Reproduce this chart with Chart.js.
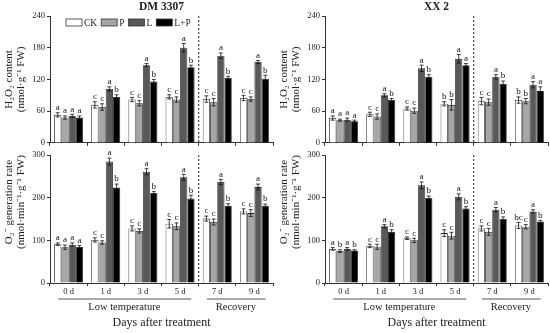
<!DOCTYPE html>
<html>
<head>
<meta charset="utf-8">
<script src="https://cdn.jsdelivr.net/npm/chart.js@4.4.1/dist/chart.umd.min.js"></script>
<style>
  html, body { margin: 0; padding: 0; background: #fff; }
  #wrap { position: relative; width: 550px; height: 333px; overflow: hidden; }
  canvas { position: absolute; }
</style>
</head>
<body>
<div id="wrap">
  <canvas id="dmTop" width="275" height="150" style="left:0;top:0"></canvas>
  <canvas id="xxTop" width="275" height="150" style="left:275px;top:0"></canvas>
  <canvas id="dmBot" width="275" height="185" style="left:0;top:148px"></canvas>
  <canvas id="xxBot" width="275" height="185" style="left:275px;top:148px"></canvas>
</div>
<script>
const days = ["0 d", "1 d", "3 d", "5 d", "7 d", "9 d"]
const treatments = ["CK", "P", "L", "L+P"]
const fills = ["#ffffff", "#a6a6a6", "#595959", "#000000"]

const h2o2Ticks = [0, 60, 120, 180, 240]
const o2Ticks = [0, 100, 200, 300]

// rows: CK, P, L, L+P ; columns follow `days`
const dmH2o2 = [
  [53, 72, 82, 87, 83, 85],
  [48, 68, 75, 82, 77, 83],
  [51, 102, 147, 180, 165, 153],
  [48, 87, 116, 143, 123, 121]
]
const dmH2o2Err = [
  [4, 6, 4, 4, 6, 5],
  [3, 6, 5, 5, 7, 4],
  [3, 4, 3, 8, 5, 3],
  [3, 4, 4, 4, 3, 7]
]
const dmH2o2Sig = [
  ["a", "c", "c", "c", "c", "c"],
  ["a", "c", "c", "c", "c", "c"],
  ["a", "a", "a", "a", "a", "a"],
  ["a", "b", "b", "b", "b", "b"]
]

const xxH2o2 = [
  [47, 54, 65, 74, 79, 81],
  [43, 50, 61, 72, 77, 79],
  [44, 90, 141, 159, 125, 110],
  [41, 81, 125, 147, 112, 98]
]
const xxH2o2Err = [
  [4, 4, 3, 4, 7, 6],
  [2, 5, 5, 10, 6, 5],
  [3, 3, 6, 8, 4, 6],
  [2, 3, 4, 3, 5, 8]
]
const xxH2o2Sig = [
  ["a", "c", "c", "b", "c", "b"],
  ["a", "c", "c", "b", "c", "b"],
  ["a", "a", "a", "a", "a", "a"],
  ["a", "b", "b", "a", "b", "a"]
]

const dmO2 = [
  [91, 101, 128, 139, 151, 168],
  [84, 95, 122, 133, 143, 164],
  [90, 285, 261, 248, 237, 225],
  [85, 224, 211, 198, 181, 181]
]
const dmO2Err = [
  [3, 5, 6, 10, 6, 6],
  [5, 4, 5, 8, 7, 8],
  [4, 8, 7, 7, 6, 7],
  [3, 8, 4, 8, 5, 4]
]
const dmO2Sig = [
  ["a", "c", "c", "c", "c", "c"],
  ["a", "c", "c", "c", "c", "c"],
  ["a", "a", "a", "a", "a", "a"],
  ["a", "b", "b", "b", "b", "b"]
]

const xxO2 = [
  [80, 87, 105, 117, 128, 135],
  [75, 85, 100, 111, 120, 132],
  [80, 133, 229, 202, 172, 168],
  [76, 120, 200, 175, 150, 144]
]
const xxO2Err = [
  [3, 4, 3, 8, 6, 7],
  [3, 6, 5, 8, 8, 5],
  [3, 4, 8, 7, 5, 4],
  [2, 5, 4, 4, 5, 3]
]
const xxO2Sig = [
  ["a", "c", "c", "c", "c", "bc"],
  ["b", "c", "c", "c", "c", "c"],
  ["a", "a", "a", "a", "a", "a"],
  ["b", "b", "b", "b", "b", "b"]
]

const serif = "'Liberation Serif', 'Times New Roman', serif"
const ink = "#222"
Chart.defaults.font.family = serif
Chart.defaults.color = ink

// error bars, letters, divider, titles, legend and group labels
const decor = {
  id: "decor",
  afterDatasetsDraw(chart, args, o) {
    const ctx = chart.ctx, x = chart.scales.x, y = chart.scales.y, ca = chart.chartArea
    ctx.save()
    ctx.strokeStyle = "#111"
    ctx.fillStyle = "#111"
    ctx.lineWidth = 0.8
    ctx.font = "9px " + serif
    ctx.textAlign = "center"
    ctx.textBaseline = "bottom"
    chart.data.datasets.forEach((ds, i) => {
      chart.getDatasetMeta(i).data.forEach((bar, j) => {
        const m = ds.data[j], e = o.errs[i][j]
        const top = y.getPixelForValue(m + e), bot = y.getPixelForValue(m - e)
        ctx.beginPath()
        ctx.moveTo(bar.x, top); ctx.lineTo(bar.x, bot)
        ctx.moveTo(bar.x - 2, top); ctx.lineTo(bar.x + 2, top)
        ctx.moveTo(bar.x - 2, bot); ctx.lineTo(bar.x + 2, bot)
        ctx.stroke()
        ctx.fillText(o.sig[i][j], bar.x, top - 0.5)
      })
    })

    // dotted line between low temperature and recovery
    const xd = (x.getPixelForValue(3) + x.getPixelForValue(4)) / 2
    ctx.strokeStyle = "#444"
    ctx.lineWidth = 1.2
    ctx.setLineDash([2, 2])
    ctx.beginPath()
    ctx.moveTo(xd, ca.top); ctx.lineTo(xd, ca.bottom)
    ctx.stroke()
    ctx.setLineDash([])

    // y title, two lines
    ctx.fillStyle = ink
    ctx.font = "11px " + serif
    ctx.textBaseline = "middle"
    const cy = (ca.top + ca.bottom) / 2 + (o.titleShift || 0)
    o.yTitle.forEach((t, k) => {
      ctx.save()
      ctx.translate(9 + k * 12, cy)
      ctx.rotate(-Math.PI / 2)
      ctx.fillText(t, 0, 0)
      ctx.restore()
    })

    // panel header
    if (o.header) {
      ctx.font = "bold 11.5px " + serif
      ctx.fillText(o.header, (ca.left + ca.right) / 2, 7)
    }

    // legend
    if (o.legend) {
      ctx.font = "9.5px " + serif
      ctx.textAlign = "left"
      let lx = ca.left + 16
      treatments.forEach((t, i) => {
        ctx.fillStyle = fills[i]
        ctx.fillRect(lx, 19, 16, 7)
        ctx.strokeStyle = "#333"
        ctx.lineWidth = 0.8
        ctx.strokeRect(lx, 19, 16, 7)
        lx += 18
        ctx.fillStyle = ink
        ctx.fillText(t, lx, 23)
        lx += ctx.measureText(t).width + 4
      })
    }

    // phase labels under the bottom panels
    if (o.phases) {
      const gw = x.getPixelForValue(1) - x.getPixelForValue(0)
      const ly = ca.bottom + 16
      ctx.strokeStyle = "#555"
      ctx.lineWidth = 1
      ctx.font = "10.5px " + serif
      ctx.textAlign = "center"
      ctx.fillStyle = ink
      ;[[0, 3, "Low temperature"], [4, 5, "Recovery"]].forEach(([a, b, t]) => {
        const x0 = x.getPixelForValue(a) - gw * 0.28, x1 = x.getPixelForValue(b) + gw * 0.3
        ctx.beginPath()
        ctx.moveTo(x0, ly); ctx.lineTo(x1, ly)
        ctx.stroke()
        ctx.fillText(t, (x.getPixelForValue(a) + x.getPixelForValue(b)) / 2, ly + 8)
      })
      ctx.font = "12px " + serif
      ctx.fillText("Days after treatment", (ca.left + ca.right) / 2, ca.bottom + 40)
    }
    ctx.restore()
  }
}

function panel(id, means, errs, sig, ticks, yTitle, extra) {
  const bottom = !!extra.phases
  return new Chart(document.getElementById(id), {
    type: "bar",
    data: {
      labels: days,
      datasets: treatments.map((t, i) => ({
        label: t,
        data: means[i],
        backgroundColor: fills[i],
        borderColor: "#222",
        borderWidth: 0.8,
        barPercentage: 1,
        categoryPercentage: 0.78
      }))
    },
    options: {
      responsive: false,
      devicePixelRatio: 1,
      animation: false,
      layout: { padding: { top: bottom ? 6 : 16, right: 2, left: 0, bottom: 0 } },
      scales: {
        x: {
          offset: true,
          grid: { offset: true, drawOnChartArea: false, tickLength: 3, color: "#333" },
          border: { color: "#333", width: 1 },
          ticks: { display: bottom, padding: 1, font: { size: 8.5 }, color: ink },
          afterFit: s => { s.height = bottom ? 50 : 6 }
        },
        y: {
          min: 0,
          max: ticks[ticks.length - 1],
          afterBuildTicks: s => { s.ticks = ticks.map(v => ({ value: v })) },
          grid: { drawOnChartArea: false, tickLength: 3, color: "#333" },
          border: { color: "#333", width: 1 },
          ticks: { padding: 2, font: { size: 8.5 }, color: ink },
          afterFit: s => { s.width = 50 }
        }
      },
      plugins: {
        legend: { display: false },
        tooltip: { enabled: false },
        decor: Object.assign({ errs, sig, yTitle }, extra)
      }
    },
    plugins: [decor]
  })
}

const h2o2Title = ["H\u2082O\u2082 content", "(nmol\u00b7g\u207b\u00b9 FW)"]
const o2Title = ["O\u2082\u207b generation rate", "(nmol\u00b7min\u207b\u00b9\u00b7g\u207b\u00b9 FW)"]

panel("dmTop", dmH2o2, dmH2o2Err, dmH2o2Sig, h2o2Ticks, h2o2Title, { header: "DM 3307", legend: true })
panel("xxTop", xxH2o2, xxH2o2Err, xxH2o2Sig, h2o2Ticks, h2o2Title, { header: "XX 2" })
panel("dmBot", dmO2, dmO2Err, dmO2Sig, o2Ticks, o2Title, { phases: true, titleShift: -17 })
panel("xxBot", xxO2, xxO2Err, xxO2Sig, o2Ticks, o2Title, { phases: true, titleShift: -17 })
</script>
</body>
</html>
